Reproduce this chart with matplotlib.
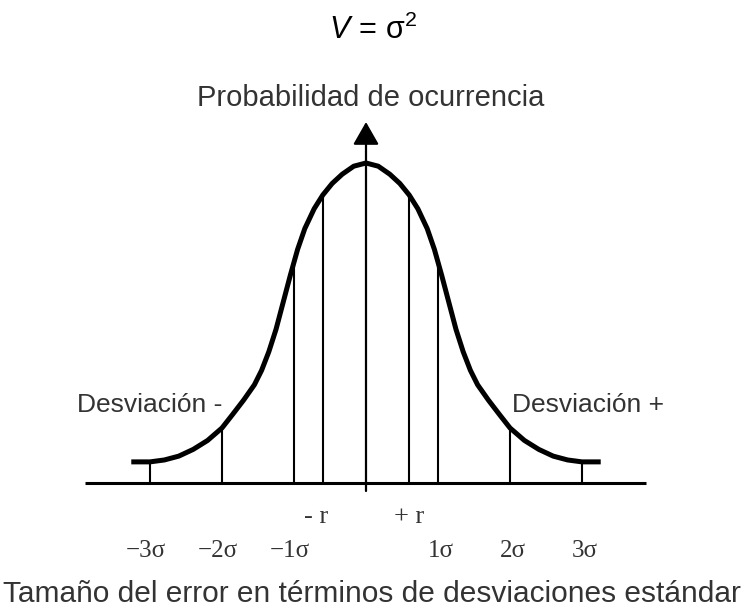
import numpy as np
import matplotlib
matplotlib.use("Agg")
import matplotlib.pyplot as plt

plt.rcParams['font.family'] = ['Liberation Sans', 'DejaVu Sans']
plt.rcParams['mathtext.fontset'] = 'custom'
plt.rcParams['mathtext.rm'] = 'Liberation Sans'
plt.rcParams['mathtext.it'] = 'Liberation Sans:italic'

# ---- data (x in standard deviations, y relative height; peak = 1) ----
curve_left_x = [-3.26, -3.0, -2.8, -2.6, -2.4, -2.2, -2.0, -1.85, -1.7, -1.55,
                -1.45, -1.35, -1.25, -1.15, -1.05, -0.95, -0.85, -0.72, -0.6,
                -0.47, -0.33, -0.17, 0.0]
curve_left_y = [0.066, 0.066, 0.072, 0.084, 0.105, 0.133, 0.172, 0.215, 0.259,
                0.307, 0.352, 0.41, 0.48, 0.565, 0.65, 0.73, 0.795, 0.857, 0.9,
                0.936, 0.965, 0.99, 1.0]
sigma_positions = [-3, -2, -1, 1, 2, 3]
sigma_labels = ['\u22123\u03c3', '\u22122\u03c3', '\u22121\u03c3', '1\u03c3', '2\u03c3', '3\u03c3']
r_positions = [-0.6, 0.6]
r_labels = ['- r', '+ r']
title = '$\\mathit{V}\\,=\\,\\mathrm{\u03c3}^{2}$'
y_label = 'Probabilidad de ocurrencia'
x_label = 'Tama\u00f1o del error en t\u00e9rminos de desviaciones est\u00e1ndar'
side_labels = ['Desviaci\u00f3n -', 'Desviaci\u00f3n +']

curve_x = np.array(curve_left_x[:-1] + [-v for v in curve_left_x[::-1]])
curve_y = np.array(curve_left_y[:-1] + curve_left_y[::-1])

txt = '#333333'

fig = plt.figure(figsize=(7.44, 6.11), dpi=100)
ax = fig.add_axes([0, 0, 1, 1])
ax.set_xlim(-366 / 72, (744 - 366) / 72)
ax.set_ylim((483 - 611) / 320, 483 / 320)
ax.axis('off')

# horizontal axis
ax.plot([-3.9, 3.89], [0, 0], color='black', lw=2.2, solid_capstyle='butt')

# vertical lines up to the curve
for p in sigma_positions + r_positions:
    top = np.interp(p, curve_x, curve_y)
    ax.plot([p, p], [0, top], color='black', lw=1.5, solid_capstyle='butt')

# central arrow
ax.annotate('', xy=(0, 1.128), xytext=(0, -0.025),
            arrowprops=dict(arrowstyle='-|>,head_length=1.4,head_width=0.8',
                            color='black', lw=1.6, mutation_scale=10,
                            shrinkA=0, shrinkB=0))

# bell curve
ax.plot(curve_x, curve_y, color='black', lw=3.6, solid_capstyle='butt',
        solid_joinstyle='round')

# texts
ax.text(0.1, 1.416, title, ha='center', va='center', fontsize=22, color='black')
ax.text(0.06, 1.203, y_label, ha='center', va='center', fontsize=21, color=txt)
ax.text(-3.0, 0.244, side_labels[0], ha='center', va='center', fontsize=19, color=txt)
ax.text(3.08, 0.244, side_labels[1], ha='center', va='center', fontsize=19, color=txt)
for p, lab in zip(r_positions, r_labels):
    ax.text(p + (0.0 if p > 0 else -0.09), -0.106, lab, ha='center', va='center',
            fontsize=19, color=txt, family='Liberation Serif')
for p, lab in zip(sigma_positions, sigma_labels):
    ax.text(p + 0.22, -0.2125, lab, ha='right', va='center', fontsize=18,
            color=txt, family='Liberation Serif')
ax.text(0.08, -0.347, x_label, ha='center', va='center', fontsize=21.5, color=txt)

fig.savefig('out.png', dpi=100)
